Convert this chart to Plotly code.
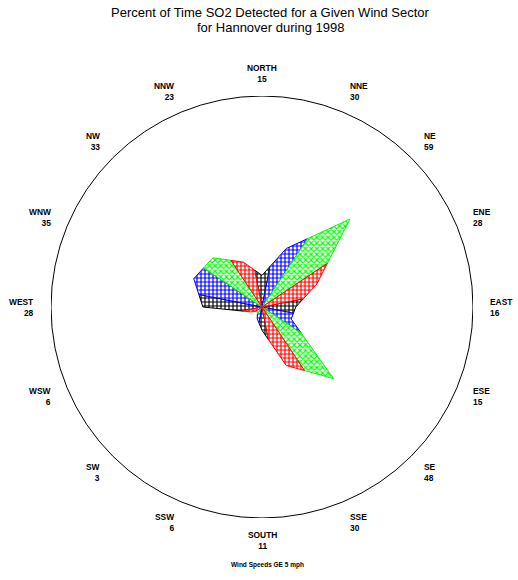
import numpy as np
import plotly.graph_objects as go

# ---- data ----
directions = ["NORTH", "NNE", "NE", "ENE", "EAST", "ESE", "SE", "SSE",
              "SOUTH", "SSW", "SW", "WSW", "WEST", "WNW", "NW", "NNW"]
percent = [15, 30, 59, 28, 16, 15, 48, 30, 11, 6, 3, 6, 28, 35, 33, 23]
title_lines = ["Percent of Time SO2 Detected for a Given Wind Sector",
               "for Hannover during 1998"]
footnote = "Wind Speeds GE 5 mph"

# ---- styles ----
sector_colors = ["#000000", "#0000ff", "#00ff00", "#ff0000"]
sector_shapes = ["+", "+", "x", "+"]
FONT = "Liberation Sans, Arial, sans-serif"
R_MAX = 100.0

n = len(directions)
step = 360.0 / n
half = np.radians(step / 2)
theta = np.radians(np.arange(n) * step)
r = np.array(percent, dtype=float)
r_prev = np.roll(r, 1)
r_next = np.roll(r, -1)
# radius where the straight outline between neighbouring directions crosses the sector border
rb_prev = 2 * r_prev * r * np.cos(half) / (r_prev + r)
rb_next = 2 * r * r_next * np.cos(half) / (r + r_next)

fig = go.Figure()

for c in range(len(sector_colors)):
    xs, ys = [], []
    for i in range(c, n, len(sector_colors)):
        aa = [0.0, theta[i] - half, theta[i], theta[i] + half, 0.0]
        rr = [0.0, rb_prev[i], r[i], rb_next[i], 0.0]
        xs += [ri * np.sin(a) for ri, a in zip(rr, aa)] + [None]
        ys += [ri * np.cos(a) for ri, a in zip(rr, aa)] + [None]
    fig.add_trace(go.Scatter(
        x=xs, y=ys, mode="lines", fill="toself",
        fillcolor="white",
        fillpattern=dict(shape=sector_shapes[c], fgcolor=sector_colors[c],
                         bgcolor="white", size=4, solidity=0.5,
                         fillmode="replace"),
        line=dict(color=sector_colors[c], width=1),
        hoverinfo="skip", showlegend=False))

# outer circle = 100 %
fig.add_shape(type="circle", xref="x", yref="y", x0=-R_MAX, y0=-R_MAX,
              x1=R_MAX, y1=R_MAX, line=dict(color="black", width=1))

# direction labels (placed in paper units so they may sit outside the axis range)
R_LAB = 107.0
def to_paper(v):
    return (v + R_MAX) / (2 * R_MAX)

for i, (name, val) in enumerate(zip(directions, percent)):
    s, co = np.sin(theta[i]), np.cos(theta[i])
    if abs(s) < 0.1:
        xa = "center"
    elif s > 0:
        xa = "left"
    else:
        xa = "right"
    fig.add_annotation(x=to_paper(R_LAB * s), y=to_paper(R_LAB * co),
                       xref="paper", yref="paper",
                       text=f"<b>{name}<br>{val}</b>", showarrow=False,
                       xanchor=xa, yanchor="middle", align=xa,
                       yshift=8 * co,
                       font=dict(family=FONT, size=8.4, color="black"))

# title lines and footnote
fig.add_annotation(x=0.521, y=1.198, xref="paper", yref="paper", text=title_lines[0],
                   showarrow=False, xanchor="center", yanchor="middle",
                   font=dict(family=FONT, size=13, color="black"))
fig.add_annotation(x=0.521, y=1.162, xref="paper", yref="paper", text=title_lines[1],
                   showarrow=False, xanchor="center", yanchor="middle",
                   font=dict(family=FONT, size=13, color="black"))
fig.add_annotation(x=0.514, y=-0.111, xref="paper", yref="paper", text=f"<b>{footnote}</b>",
                   showarrow=False, xanchor="center", yanchor="middle",
                   font=dict(family=FONT, size=6.5, color="black"))

fig.update_xaxes(range=[-R_MAX, R_MAX], visible=False, fixedrange=True)
fig.update_yaxes(range=[-R_MAX, R_MAX], visible=False, fixedrange=True)
fig.update_layout(width=518, height=580,
                  margin=dict(l=51, r=45, t=96, b=62),
                  paper_bgcolor="white", plot_bgcolor="white",
                  showlegend=False)

fig.write_html("out.html", config={"displayModeBar": False},
               post_script="document.body.style.margin='0px';document.body.style.overflow='hidden';")
